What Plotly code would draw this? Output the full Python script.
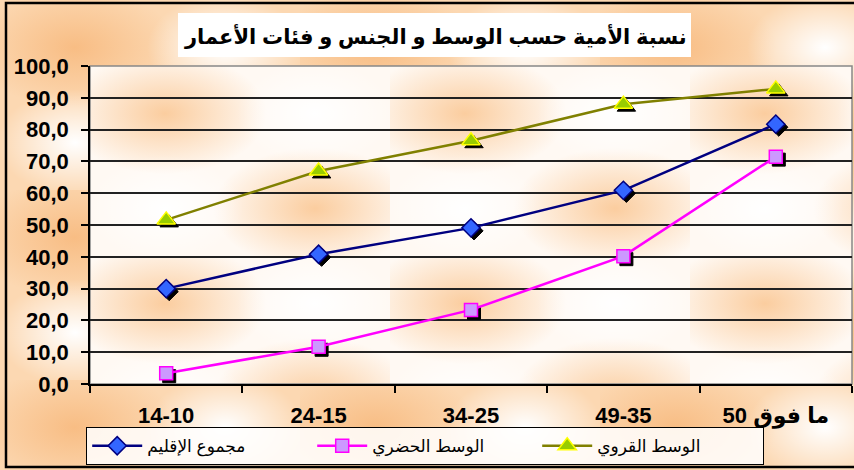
import base64
import plotly.graph_objects as go

categories = ["14-10", "24-15", "34-25", "49-35", "ما فوق 50"]
total = [30.0, 40.8, 49.1, 60.9, 81.7]
urban = [3.4, 11.7, 23.3, 40.2, 71.5]
rural = [51.6, 67.0, 76.5, 88.0, 92.8]
series_names = ["مجموع الإقليم", "الوسط الحضري", "الوسط القروي"]
y_ticks = [0, 10, 20, 30, 40, 50, 60, 70, 80, 90, 100]
y_ticktext = ["0,0", "10,0", "20,0", "30,0", "40,0", "50,0", "60,0", "70,0", "80,0", "90,0", "100,0"]
title_text = "نسبة الأمية حسب الوسط و الجنس و فئات الأعمار"

W, H = 854, 470
ML, MR, MT, MB = 90, 2, 66, 86
PW, PH = W - ML - MR, H - MT - MB

FONT = "Liberation Sans, Arial, DejaVu Sans, sans-serif"


def svg_uri(w, h, base, blob, hi, tile_w, tile_h):
    svg = f'''<svg xmlns="http://www.w3.org/2000/svg" width="{w}" height="{h}">
<defs>
<radialGradient id="b"><stop offset="0" stop-color="{blob}"/><stop offset="1" stop-color="{blob}" stop-opacity="0"/></radialGradient>
<radialGradient id="w"><stop offset="0" stop-color="{hi}"/><stop offset="1" stop-color="{hi}" stop-opacity="0"/></radialGradient>
<pattern id="p" width="{tile_w}" height="{tile_h}" patternUnits="userSpaceOnUse">
<rect width="{tile_w}" height="{tile_h}" fill="{base}"/>
<ellipse cx="{tile_w*0.25}" cy="{tile_h*0.25}" rx="{tile_w*0.34}" ry="{tile_h*0.32}" fill="url(#b)"/>
<ellipse cx="{tile_w*0.75}" cy="{tile_h*0.75}" rx="{tile_w*0.34}" ry="{tile_h*0.32}" fill="url(#b)"/>
<ellipse cx="{tile_w*0.75}" cy="{tile_h*0.25}" rx="{tile_w*0.26}" ry="{tile_h*0.28}" fill="url(#w)"/>
<ellipse cx="{tile_w*0.25}" cy="{tile_h*0.75}" rx="{tile_w*0.26}" ry="{tile_h*0.28}" fill="url(#w)"/>
</pattern>
</defs>
<rect width="{w}" height="{h}" fill="url(#p)"/>
</svg>'''
    return "data:image/svg+xml;base64," + base64.b64encode(svg.encode()).decode()


outer_bg = svg_uri(W, H, "#fcd8b2", "#f8bd84", "#ffffff", 300, 190)
inner_bg = svg_uri(PW, PH, "#fff9f3", "#fbcd9f", "#ffffff", 300, 190)

fig = go.Figure()

styles = [
    dict(line="#000080", fill="#3366ff", edge="#000080", symbol="diamond", size=14),
    dict(line="#ff00ff", fill="#cc99ff", edge="#ff00ff", symbol="square", size=13),
    dict(line="#808000", fill="#99cc00", edge="#ffff00", symbol="triangle-up", size=16),
]
data = [total, urban, rural]

# shadows (primary axes, shifted range)
for vals, st in zip(data, styles):
    fig.add_trace(go.Scatter(
        x=categories, y=vals, mode="markers", xaxis="x", yaxis="y",
        marker=dict(symbol=st["symbol"], size=st["size"], color="black",
                    line=dict(width=1, color="black")),
        showlegend=False, hoverinfo="skip"))

# main series
for vals, name, st in zip(data, series_names, styles):
    fig.add_trace(go.Scatter(
        x=categories, y=vals, name=name, mode="lines+markers",
        xaxis="x2", yaxis="y2",
        line=dict(color=st["line"], width=2.5),
        marker=dict(symbol=st["symbol"], size=st["size"], color=st["fill"],
                    line=dict(width=1.5, color=st["edge"]))))

dx = 3 / (PW / 5)
dy = 3 / (PH / 100)

fig.update_layout(
    width=W, height=H,
    margin=dict(l=ML, r=MR, t=MT, b=MB, autoexpand=False),
    paper_bgcolor="#fcd8b2",
    plot_bgcolor="rgba(0,0,0,0)",
    font=dict(family=FONT, color="black"),
    showlegend=True,
    xaxis=dict(type="category", categoryorder="array", categoryarray=categories,
               range=[-0.5 - dx, 4.5 - dx], visible=False, fixedrange=True, automargin=False),
    yaxis=dict(range=[0 + dy, 100 + dy], visible=False, fixedrange=True, automargin=False),
    xaxis2=dict(type="category", categoryorder="array", categoryarray=categories,
                range=[-0.5, 4.5], overlaying="x", anchor="y2", side="bottom",
                showgrid=False, showline=True, linecolor="black", linewidth=1.5,
                ticks="outside", ticklen=7, tickwidth=1.5, tickcolor="black",
                tickson="boundaries", ticklabelstandoff=11, automargin=False,
                tickfont=dict(size=22, family=FONT, weight="bold")),
    yaxis2=dict(range=[0, 100], overlaying="y", anchor="x2", side="left",
                tickvals=y_ticks, ticktext=y_ticktext,
                showgrid=True, gridcolor="#222222", gridwidth=1.5,
                showline=True, linecolor="black", linewidth=1.5,
                ticks="outside", ticklen=7, tickwidth=1.5, tickcolor="black",
                ticklabelstandoff=8, zeroline=False, automargin=False,
                tickfont=dict(size=22, family=FONT, weight="bold")),
    legend=dict(orientation="h", xref="container", yref="container",
                x=86 / W, xanchor="left", y=1 - 465 / H, yanchor="bottom",
                bgcolor="rgba(255,255,255,0.85)", bordercolor="black", borderwidth=1.2,
                font=dict(size=17, family=FONT), entrywidth=160, entrywidthmode="pixels",
                itemwidth=50, traceorder="normal", tracegroupgap=0),
    images=[
        dict(source=outer_bg, xref="paper", yref="paper", x=-ML / PW, y=1 + MT / PH,
             sizex=W / PW, sizey=H / PH, sizing="stretch", xanchor="left", yanchor="top",
             layer="below"),
        dict(source=inner_bg, xref="paper", yref="paper", x=0, y=1, sizex=1, sizey=1,
             sizing="stretch", xanchor="left", yanchor="top", layer="below"),
    ],
    shapes=[
        dict(type="rect", xref="paper", yref="paper", x0=0, x1=1, y0=0, y1=1,
             line=dict(color="#888888", width=1.5), fillcolor="rgba(0,0,0,0)", layer="below"),
        dict(type="rect", xref="paper", yref="paper",
             x0=(178 - ML) / PW, x1=(691 - ML) / PW,
             y0=1 + (MT - 57) / PH, y1=1 + (MT - 13) / PH,
             line=dict(width=0), fillcolor="white", layer="above"),
        dict(type="rect", xref="paper", yref="paper",
             x0=(6 - ML) / PW, x1=(858 - ML) / PW,
             y0=-(H - MT - PH - 3) / PH, y1=1 + (MT - 3) / PH,
             line=dict(color="black", width=2.5), fillcolor="rgba(0,0,0,0)", layer="above"),
    ],
    annotations=[
        dict(text=f"<b>{title_text}</b>", xref="paper", yref="paper",
             x=(435 - ML) / PW, y=1 + (MT - 36) / PH, xanchor="center", yanchor="middle",
             showarrow=False, font=dict(size=21, family=FONT, color="black")),
    ],
)

fig.write_html("out.html", config={"displayModeBar": False},
               post_script="document.body.style.margin='0';")
